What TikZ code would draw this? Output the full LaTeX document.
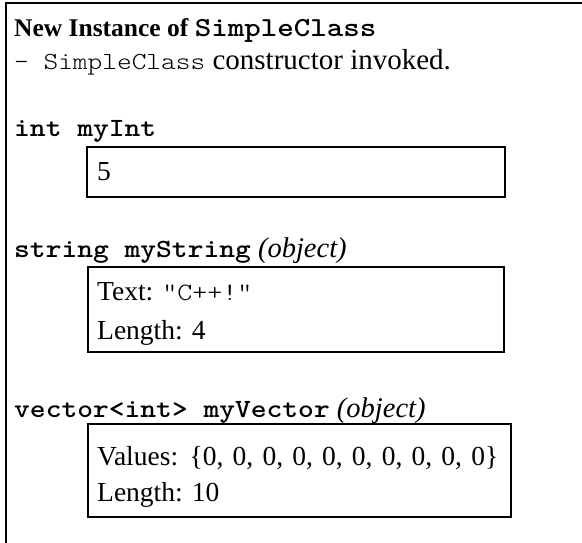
\documentclass[tikz,border=0pt]{standalone}
\usepackage{fontspec}
\setmainfont{Liberation Serif}
% thin slab-serif typewriter, widened to a 0.6em advance
\setmonofont{lmmonolt10-regular.otf}[BoldFont=lmmonolt10-bold.otf, FakeStretch=1.143]
\newcommand\fsz[1]{\fontsize{#1pt}{1.2\dimexpr#1pt\relax}\selectfont}
\newcommand\code[2]{{\fsz{#1}\ttfamily #2}}
\tikzset{
  frameline/.style={line width=2.4pt},
  valbox/.style={draw, line width=2pt, anchor=north west, inner sep=0pt},
  txt/.style={anchor=base west, inner sep=0pt, font=\fsz{27.5}},
}
\begin{document}
\begin{tikzpicture}[x=1pt, y=1pt]
\useasboundingbox (0,0) rectangle (582,-543);
% outer frame (only top and left edges are visible)
\draw[frameline] (6,-543) -- (6,-3) -- (582,-3);

% heading
\node[txt, font=\fsz{25.5}] (title) at (14,-37)
  {\textbf{New Instance of \code{27.5}{SimpleClass}}};
\node[txt, font=\fsz{29}] (ctor) at (14,-70)
  {\code{24.5}{- SimpleClass} constructor invoked.};

% int member
\node[txt] (intlbl) at (14,-137) {\code{26.3}{\bfseries int myInt}};
\node[valbox, minimum width=418pt, minimum height=50pt] (intbox) at (86,-146) {};
\node[txt] (intval) at (97,-181) {5};

% string member
\node[txt, font=\fsz{28.5}] (strlbl) at (14,-257)
  {\code{26.3}{\bfseries string myString} \textit{(object)}};
\node[valbox, minimum width=416pt, minimum height=85pt] (strbox) at (87,-266) {};
\node[txt] (strtext) at (97,-300) {Text: \code{25}{"C++!"}};
\node[txt] (strlen) at (97,-339) {Length: 4};

% vector member
\node[txt, font=\fsz{28.5}] (veclbl) at (14,-417)
  {\code{26.3}{\bfseries vector<int> myVector} \textit{(object)}};
\node[valbox, minimum width=423pt, minimum height=93pt] (vecbox) at (87,-423) {};
\node[txt] (vecvals) at (97,-465)
  {\spaceskip=9.2pt Values: \{0, 0, 0, 0, 0, 0, 0, 0, 0, 0\}};
\node[txt] (veclen) at (97,-501) {Length: 10};
\end{tikzpicture}
\end{document}
